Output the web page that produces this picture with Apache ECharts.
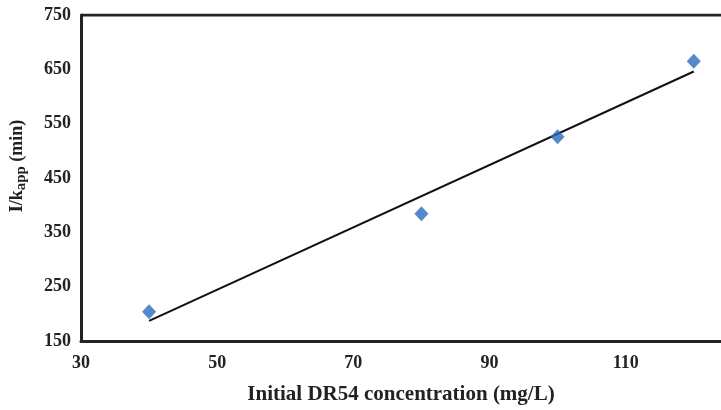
<!DOCTYPE html>
<html>
<head>
<meta charset="utf-8">
<script src="https://cdn.jsdelivr.net/npm/echarts@6/dist/echarts.min.js"></script>
<style>
  html, body { margin: 0; padding: 0; background: #fff; }
  #main { width: 721px; height: 410px; }
</style>
</head>
<body>
<div id="main"></div>
<script>
// measured points (x = initial conc, y = 1/kapp)
const concentration = [40, 80, 100, 120];
const invKapp = [204, 384, 526, 665];
// fitted line ends
const trendX = [40, 120];
const trendY = [187, 646];
const xTicks = [30, 50, 70, 90, 110];
const yTicks = [150, 250, 350, 450, 550, 650, 750];

const chart = echarts.init(document.getElementById('main'));
const serif = '"Liberation Serif", "Times New Roman", serif';

chart.setOption({
  backgroundColor: '#fff',
  animation: false,
  grid: { left: 81, top: 15, right: 0, bottom: 69 },
  xAxis: {
    type: 'value',
    min: 30,
    max: 124,
    interval: 20,
    name: 'Initial DR54 concentration (mg/L)',
    nameLocation: 'middle',
    nameGap: 43,
    nameTextStyle: { fontFamily: serif, fontWeight: 'bold', fontSize: 21, color: '#222' },
    axisLine: { lineStyle: { color: '#222', width: 3 } },
    axisTick: { show: false },
    splitLine: { show: false },
    axisLabel: {
      fontFamily: serif, fontWeight: 'bold', fontSize: 18, color: '#222', margin: 13,
      showMaxLabel: false,
      formatter: v => xTicks.includes(v) ? String(v) : ''
    }
  },
  yAxis: {
    type: 'value',
    min: 150,
    max: 750,
    interval: 100,
    name: '{m|I/k}{s|app}{m| (min)}',
    nameLocation: 'middle',
    nameGap: 52,
    nameTextStyle: {
      padding: [0, 0, 0, 24],
      rich: {
        m: { fontFamily: serif, fontWeight: 'bold', fontSize: 18, color: '#222' },
        s: { fontFamily: serif, fontWeight: 'bold', fontSize: 15, color: '#222', padding: [8, 0, 0, 0] }
      }
    },
    axisLine: { show: true, lineStyle: { color: '#222', width: 3 } },
    axisTick: { show: false },
    splitLine: { show: false },
    axisLabel: {
      fontFamily: serif, fontWeight: 'bold', fontSize: 18, color: '#222', margin: 10,
      formatter: v => yTicks.includes(v) ? String(v) : ''
    }
  },
  series: [
    {
      type: 'line',
      data: trendX.map((x, i) => [x, trendY[i]]),
      symbol: 'none',
      lineStyle: { color: '#111', width: 2 },
      z: 2
    },
    {
      type: 'scatter',
      data: concentration.map((x, i) => [x, invKapp[i]]),
      symbol: 'diamond',
      symbolSize: [14, 15],
      itemStyle: { color: '#2a6cbb' },
      z: 3
    },
    {
      // top frame line
      type: 'line',
      data: [[30, 750], [124, 750]],
      symbol: 'none',
      lineStyle: { color: '#222', width: 3 },
      z: 1
    }
  ]
});
</script>
</body>
</html>
